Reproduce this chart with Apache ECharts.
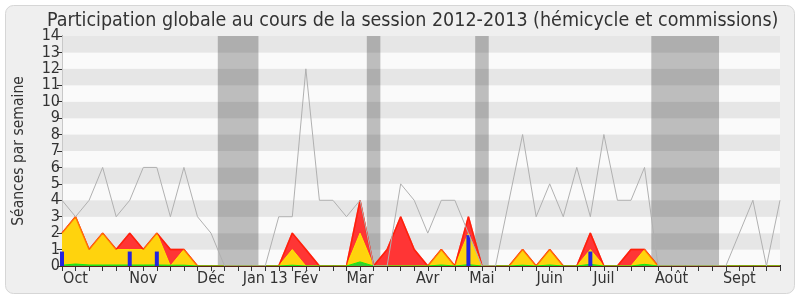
<!DOCTYPE html>
<html>
<head>
<meta charset="utf-8">
<script src="https://cdn.jsdelivr.net/npm/echarts@6/dist/echarts.min.js"></script>
<style>
html,body{margin:0;padding:0;background:#fff;}
#c{width:800px;height:300px;}
</style>
</head>
<body>
<div id="c"></div>
<script>
// Week indices (0 = first week of October 2012 … 53 = end of September 2013)
const weekIdx = [0,1,2,3,4,5,6,7,8,9,10,11,12,13,14,15,16,17,18,19,20,21,22,23,24,25,26,
  27,28,29,30,31,32,33,34,35,36,37,38,39,40,41,42,43,44,45,46,47,48,49,50,51,52,53];
// Month tick labels: [week index, label]
const monthLabels = [[1,'Oct'],[6,'Nov'],[11,'Déc'],[15,'Jan 13'],[18,'Fév'],[22,'Mar'],
  [27,'Avr'],[31,'Mai'],[36,'Juin'],[40,'Juil'],[45,'Août'],[50,'Sept']];
// Vacation periods (week index ranges)
const vacances = [[11.5,14.5],[22.5,23.5],[30.5,31.5],[43.5,48.5]];

// Grey line: reference participation
const reference = [4,3,4,6,3,4,6,6,3,6,3,2,0,0,0,0,3,3,12,4,4,3,4,0,0,5,4,2,4,4,2,0,0,4,8,3,5,3,6,3,8,4,4,6,0,0,0,0,0,0,2,4,0,4];
// Red: total presences (hémicycle + commissions)
const presencesTotal = [2,3,1,2,1,2,1,2,1,1,0,0,0,0,0,0,0,2,1,0,0,0,4,0,1,3,1,0,1,0,3,0,0,0,1,0,1,0,0,2,0,0,1,1,0,0,0,0,0,0,0,0,0,0];
// Yellow: commission presences
const presencesCommission = [2,3,1,2,1,1,1,2,0,1,0,0,0,0,0,0,0,1,0,0,0,0,2,0,0,0,0,0,1,0,2,0,0,0,1,0,1,0,0,1,0,0,0,1,0,0,0,0,0,0,0,0,0,0];
// Green: interventions
const interventions = [0.05,0.12,0.06,0.06,0.06,0.06,0.06,0.06,0.05,0.05,0,0,0,0,0,0,0,0.05,0,0,0,0,0.25,0,0,0,0,0,0.06,0,0.08,0,0,0,0.05,0,0.06,0,0,0.1,0,0,0,0.1,0,0,0,0,0,0,0,0,0,0];
// Blue bars: questions
const questions = [0.88,0,0,0,0,0.88,0,0.88,0,0,0,0,0,0,0,0,0,0,0,0,0,0,0,0,0,0,0,0,0,0,1.88,0,0,0,0,0,0,0,0,0.88,0,0,0,0,0,0,0,0,0,0,0,0,0,0];

const FONT = "'DejaVu Sans Condensed', 'DejaVu Sans', sans-serif";
const pairs = arr => weekIdx.map(i => [i, arr[i]]);
const labelMap = {};
monthLabels.forEach(([i, l]) => { labelMap[i] = l; });

const chart = echarts.init(document.getElementById('c'), null, {renderer: 'canvas'});
chart.setOption({
  animation: false,
  backgroundColor: '#ffffff',
  graphic: [{
    type: 'rect', z: -10, silent: true,
    shape: {x: 5.5, y: 5.5, width: 789, height: 288, r: 8},
    style: {fill: '#efefef', stroke: '#d6d6d6', lineWidth: 1}
  }],
  title: {
    text: 'Participation globale au cours de la session 2012-2013 (hémicycle et commissions)',
    left: 42, top: 6,
    textStyle: {fontFamily: FONT, fontSize: 19.5, fontWeight: 'normal', color: '#333333'}
  },
  grid: {left: 62, right: 20, top: 36, bottom: 34, containLabel: false},
  xAxis: [{
    type: 'value', min: 0, max: 53, interval: 1, position: 'bottom', z: 10,
    axisLine: {show: true, lineStyle: {color: '#5a2418', width: 1}},
    axisTick: {show: true, length: 5, lineStyle: {color: '#333'}},
    axisLabel: {
      show: true, margin: 5, fontFamily: FONT, fontSize: 16, color: '#333333',
      formatter: v => labelMap[v] || ''
    },
    splitLine: {show: false}
  }, {
    type: 'value', min: 0, max: 53, interval: 1, position: 'top',
    axisLine: {show: false},
    axisTick: {show: true, length: 1, lineStyle: {color: '#222'}},
    axisLabel: {show: false},
    splitLine: {show: false}
  }],
  yAxis: [{
    type: 'value', min: 0, max: 14, interval: 1,
    name: 'Séances par semaine', nameLocation: 'middle', nameGap: 35,
    nameTextStyle: {fontFamily: FONT, fontSize: 15.5, color: '#333333'},
    axisLine: {show: true, lineStyle: {color: '#333', width: 1}},
    axisTick: {show: true, length: 5, lineStyle: {color: '#333'}},
    axisLabel: {fontFamily: FONT, fontSize: 16, color: '#333333', margin: 2},
    splitLine: {show: false},
    splitArea: {show: true, areaStyle: {color: ['#fafafa', '#e6e6e6']}}
  }, {
    type: 'value', min: 0, max: 14, interval: 1, position: 'right',
    axisLine: {show: true, lineStyle: {color: '#c8c8c8'}},
    axisTick: {show: false}, axisLabel: {show: false}, splitLine: {show: false}
  }],
  series: [
    {
      name: 'Total', type: 'line', data: pairs(presencesTotal), z: 2,
      symbol: 'none', lineStyle: {color: '#ff1a1a', width: 1.5},
      areaStyle: {color: '#ff3535', opacity: 1},
      markArea: {
        silent: true,
        itemStyle: {color: 'rgba(0,0,0,0.245)'},
        data: vacances.map(([a, b]) => [{xAxis: a}, {xAxis: b}])
      }
    },
    {
      name: 'Commission', type: 'line', data: pairs(presencesCommission), z: 3,
      symbol: 'none', lineStyle: {color: '#ffe600', width: 1},
      areaStyle: {color: '#ffd30d', opacity: 1}
    },
    {
      name: 'TotalEdge', type: 'line', data: pairs(presencesTotal), z: 4,
      symbol: 'none', lineStyle: {color: 'rgba(255,40,0,0.55)', width: 1.5}
    },
    {
      name: 'Interventions', type: 'line', data: pairs(interventions), z: 5,
      symbol: 'none', lineStyle: {color: '#11ee11', width: 1},
      areaStyle: {color: '#33cc33', opacity: 1}
    },
    {
      name: 'Questions', type: 'bar', data: pairs(questions), z: 6,
      barWidth: 4, itemStyle: {color: '#2424dd'}
    },
    {
      name: 'Référence', type: 'line', data: pairs(reference), z: 7,
      symbol: 'none', lineStyle: {color: '#b0b0b0', width: 1}
    }
  ]
});
</script>
</body>
</html>
